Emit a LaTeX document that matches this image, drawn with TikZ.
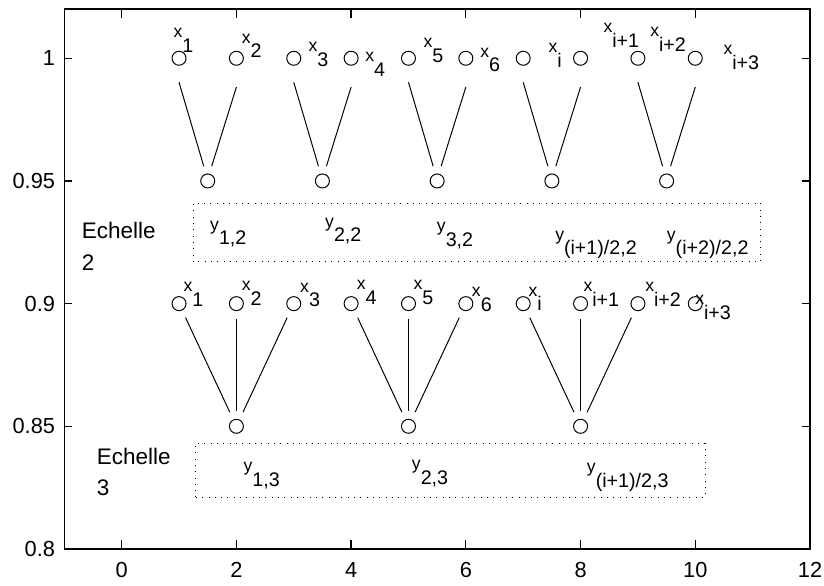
\documentclass[tikz,border=0pt]{standalone}
\usepackage{fontspec}
\setmainfont{Liberation Sans}
\usetikzlibrary{calc}

% letter with a lowered index, as in the plot
\newcommand{\lab}[2]{{\fontsize{12.5}{15}\selectfont #1}\raisebox{-10.5pt}{#2}}

\begin{document}
\begin{tikzpicture}[x=1.434cm, y=61.3375cm,
    pt/.style={circle, draw, line width=0.7pt, minimum size=0.35cm, inner sep=0pt},
    link/.style={line width=0.7pt},
    lbl/.style={anchor=base west, inner sep=0pt, font=\fontsize{14}{16}\selectfont},
    dotbox/.style={line width=0.7pt, dash pattern=on 0.7pt off 3.8pt},
    ticklbl/.style={inner sep=0pt, font=\fontsize{15.5}{18}\selectfont}]
        \useasboundingbox (-2.121,0.78533) rectangle (12.244,1.02376);

        % Axes box and ticks
        \draw[line width=1.1pt] (-1,0.8) rectangle (12,1.02);
        \foreach \x in {0,2,...,10} {
            \draw[line width=0.9pt] (\x,0.8) -- ++(0,0.225cm);
            \draw[line width=0.9pt] (\x,1.02) -- ++(0,-0.225cm);
        }
        \foreach \x in {0,2,...,12}
            \node[ticklbl, anchor=north] (xt\x) at ([yshift=-0.32cm]\x,0.8) {\x};
        \foreach \y [count=\i] in {0.8,0.85,0.9,0.95,1} {
            \draw[line width=0.9pt] (-1,\y) -- ++(0.2cm,0);
            \draw[line width=0.9pt] (12,\y) -- ++(-0.2cm,0);
            \node[ticklbl, anchor=east] (yt\i) at ([xshift=-0.225cm]-1,\y) {\y};
        }

        % Level 1 and level 2 points
        \foreach \i in {1,...,10} {
            \node[pt] (t\i) at (\i,1) {};
            \node[pt] (v\i) at (\i,0.9) {};
        }
        \foreach \k in {1,...,5}
            \node[pt] (u\k) at (2*\k-0.5,0.95) {};
        \foreach \k in {1,2,3}
            \node[pt] (w\k) at (3*\k-1,0.85) {};

        % Pairs -> scale 2
        \foreach \l/\r/\k in {1/2/1,3/4/2,5/6/3,7/8/4,9/10/5} {
            \draw[link] ([yshift=-0.6cm]t\l.center) -- ([xshift=-0.1cm,yshift=0.37cm]u\k.center);
            \draw[link] ([yshift=-0.72cm]t\r.center) -- ([xshift=0.1cm,yshift=0.37cm]u\k.center);
        }

        % Triples -> scale 3
        \foreach \a/\b in {1/1,2/1,3/1,4/2,5/2,6/2,7/3,8/3,9/3}
            \draw[link, shorten <=0.2cm, shorten >=0.2cm] (v\a) -- (w\b);

        % Labels, level 1
        \node[lbl] (ta1) at (0.900,1.0083) {\lab{x}{1}};
        \node[lbl] (ta2) at (2.092,1.0062) {\lab{x}{2}};
        \node[lbl] (ta3) at (3.253,1.0026) {\lab{x}{3}};
        \node[lbl] (ta4) at (4.242,0.9985) {\lab{x}{4}};
        \node[lbl] (ta5) at (5.258,1.0042) {\lab{x}{5}};
        \node[lbl] (ta6) at (6.247,1.0005) {\lab{x}{6}};
        \node[lbl] (ta7) at (7.437,1.0022) {\lab{x}{i}};
        \node[lbl] (ta8) at (8.396,1.0103) {\lab{x}{i+1}};
        \node[lbl] (ta9) at (9.210,1.0087) {\lab{x}{i+2}};
        \node[lbl] (ta10) at (10.488,1.0014) {\lab{x}{i+3}};

        % Labels, level 2
        \node[lbl] (va1) at (1.074,0.9049) {\lab{x}{1}};
        \node[lbl] (va2) at (2.092,0.9052) {\lab{x}{2}};
        \node[lbl] (va3) at (3.108,0.9047) {\lab{x}{3}};
        \node[lbl] (va4) at (4.097,0.9056) {\lab{x}{4}};
        \node[lbl] (va5) at (5.084,0.9056) {\lab{x}{5}};
        \node[lbl] (va6) at (6.102,0.9028) {\lab{x}{6}};
        \node[lbl] (va7) at (7.089,0.9031) {\lab{x}{i}};
        \node[lbl] (va8) at (8.047,0.9049) {\lab{x}{i+1}};
        \node[lbl] (va9) at (9.123,0.9049) {\lab{x}{i+2}};
        \node[lbl] (va10) at (9.995,0.8995) {\lab{x}{i+3}};

        % Echelle 2
        \draw[dotbox] (1.25,0.917) rectangle (11.14,0.941);
        \node[anchor=north west, inner sep=0pt, align=left, font=\fontsize{16}{22.8}\selectfont] (e2) at (-0.697,0.9334) {Echelle\\2};
        \node[lbl] (ua1) at (1.539,0.9300) {\lab{y}{1,2}};
        \node[lbl] (ua2) at (3.544,0.9312) {\lab{y}{2,2}};
        \node[lbl] (ua3) at (5.492,0.9292) {\lab{y}{3,2}};
        \node[lbl] (ua4) at (7.554,0.9259) {\lab{y}{(i+1)/2,2}};
        \node[lbl] (ua5) at (9.501,0.9259) {\lab{y}{(i+2)/2,2}};

        % Echelle 3
        \draw[dotbox] (1.28,0.821) rectangle (10.17,0.843);
        \node[anchor=north west, inner sep=0pt, align=left, font=\fontsize{16}{21.5}\selectfont] (e3) at (-0.436,0.8410) {Echelle\\3};
        \node[lbl] (wa1) at (2.120,0.8314) {\lab{y}{1,3}};
        \node[lbl] (wa2) at (5.056,0.8322) {\lab{y}{2,3}};
        \node[lbl] (wa3) at (8.107,0.8310) {\lab{y}{(i+1)/2,3}};
    \end{tikzpicture}
\end{document}
